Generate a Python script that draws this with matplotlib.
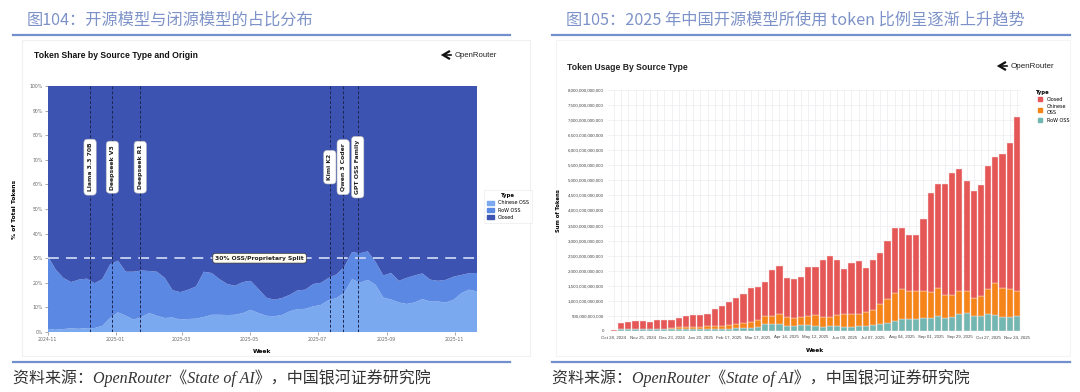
import numpy as np
import pandas as pd
import matplotlib
matplotlib.use('Agg')
import matplotlib.pyplot as plt
import matplotlib.dates as mdates
from matplotlib.patches import Patch, Rectangle
from matplotlib.lines import Line2D
from matplotlib.ticker import MultipleLocator, FuncFormatter

plt.rcParams['font.family'] = ['DejaVu Sans', 'Noto Sans CJK SC']
CJK = ['Noto Sans CJK SC', 'DejaVu Sans']
CAPTION = ['Liberation Serif', 'Noto Sans CJK SC']

# ---- left chart: weekly share of tokens (%), starts 2024-11-01 ----
chinese_share = [1.3, 0.9, 1.2, 1.5, 1.3, 1.6, 1.6, 2.5, 5.7, 8.0,
                 6.6, 5.0, 6.1, 7.7, 6.6, 5.7, 5.9, 5.0, 5.3, 5.4,
                 6.1, 7.0, 7.0, 6.9, 7.0, 7.7, 9.0, 7.7, 6.6, 6.4,
                 6.9, 8.4, 9.3, 9.4, 10.4, 11.0, 13.0, 13.8, 16.0, 21.5,
                 20.0, 21.2, 19.2, 14.0, 13.2, 12.0, 11.4, 12.0, 13.4, 12.4,
                 12.4, 12.0, 13.1, 15.8, 17.2, 16.5]
row_share = [29.7, 24.6, 20.8, 18.8, 20.0, 20.1, 18.2, 19.0, 21.8, 21.0,
             17.9, 19.5, 18.9, 17.1, 17.9, 16.3, 11.1, 11.2, 11.9, 13.1,
             18.4, 17.0, 14.5, 12.6, 11.8, 12.6, 11.8, 9.8, 7.4, 6.7,
             6.9, 6.7, 7.6, 7.8, 9.1, 9.0, 9.0, 9.6, 10.5, 11.0,
             12.0, 11.6, 9.3, 9.0, 10.8, 8.8, 10.6, 11.0, 10.4, 8.9,
             8.4, 9.2, 9.4, 7.4, 6.7, 7.5]
share_types = ['Chinese OSS', 'RoW OSS', 'Closed']
event_names = ['Llama 3.3 70B', 'Deepseek V3', 'Deepseek R1',
               'Kimi K2', 'Qwen 3 Coder', 'GPT OSS Family']
event_dates = ['2024-12-09', '2024-12-29', '2025-01-23',
               '2025-07-12', '2025-07-24', '2025-08-06']

# ---- right chart: weekly token usage (trillions), starts 2024-10-28 ----
row_tokens = [0.0, 0.05, 0.05, 0.06, 0.06, 0.06, 0.06, 0.06, 0.06, 0.07,
              0.07, 0.07, 0.07, 0.07, 0.08, 0.08, 0.08, 0.09, 0.09, 0.11,
              0.14, 0.23, 0.24, 0.22, 0.17, 0.18, 0.19, 0.19, 0.15, 0.14,
              0.15, 0.15, 0.14, 0.14, 0.16, 0.16, 0.21, 0.22, 0.26, 0.33,
              0.39, 0.39, 0.41, 0.42, 0.43, 0.50, 0.43, 0.46, 0.58, 0.60,
              0.51, 0.51, 0.56, 0.53, 0.47, 0.46, 0.50]
chinese_tokens = [0.0, 0.01, 0.01, 0.01, 0.01, 0.01, 0.02, 0.02, 0.03, 0.05,
                  0.06, 0.07, 0.07, 0.08, 0.09, 0.10, 0.12, 0.13, 0.17, 0.20,
                  0.22, 0.27, 0.26, 0.34, 0.30, 0.24, 0.28, 0.31, 0.37, 0.31,
                  0.32, 0.38, 0.42, 0.42, 0.42, 0.46, 0.49, 0.67, 0.79, 0.94,
                  1.00, 0.95, 0.92, 0.90, 0.87, 0.93, 0.77, 0.74, 0.74, 0.74,
                  0.60, 0.65, 0.84, 1.05, 0.95, 0.93, 0.84]
closed_tokens = [0.04, 0.20, 0.24, 0.27, 0.26, 0.23, 0.29, 0.29, 0.27, 0.30,
                 0.36, 0.38, 0.38, 0.43, 0.57, 0.65, 0.75, 0.88, 0.96, 1.11,
                 1.09, 1.12, 1.53, 1.61, 1.30, 1.32, 1.32, 1.62, 1.62, 1.90,
                 2.02, 1.83, 1.51, 1.69, 1.76, 1.47, 1.66, 1.69, 1.94, 2.14,
                 2.04, 1.85, 1.86, 2.40, 3.28, 3.45, 3.69, 4.04, 4.05, 3.65,
                 3.53, 3.70, 4.09, 4.21, 4.47, 4.84, 5.76]

W, H = 1080, 392
fig = plt.figure(figsize=(W / 100, H / 100), dpi=100)

# pixel overlay for headers, rules, captions
ov = fig.add_axes([0, 0, 1, 1])
ov.set_xlim(0, W)
ov.set_ylim(H, 0)
ov.axis('off')

blue_txt = '#7d92c8'
rule = '#7290cc'
for x0, x1, title in [(13, 510, '图104：开源模型与闭源模型的占比分布'),
                      (552, 1070, '图105：2025 年中国开源模型所使用 token 比例呈逐渐上升趋势')]:
    ov.plot([x0, x1], [34.5, 34.5], color=rule, lw=1.6)
    ov.plot([x0, x1], [362, 362], color=rule, lw=1.6)
    ov.text(x0 + 14, 20, title, fontsize=11.7, color=blue_txt, family=CJK,
            va='center', ha='left')
    ov.text(x0, 378, '资料来源：OpenRouter《State of AI》，中国银河证券研究院',
            fontsize=11.5, color='#333333', family=CAPTION, style='italic',
            va='center', ha='left')

ov.add_patch(Rectangle((22, 40), 508, 316, fc='white', ec='#f0f0f0', lw=0.8))
ov.add_patch(Rectangle((556, 40), 514, 316, fc='white', ec='#f4f4f4', lw=0.8))


def logo(x, y, size):
    ov.plot([x + 6, x, x + 6], [y - 3.5, y, y + 3.5], color='#111111',
            lw=1.6, solid_joinstyle='miter')
    ov.plot([x + 2, x + 8], [y, y], color='#111111', lw=1.2)
    ov.text(x + 12, y, 'OpenRouter', fontsize=size, color='#222222',
            va='center', ha='left', family='Liberation Sans')


ov.text(34, 55, 'Token Share by Source Type and Origin', fontsize=6.2,
        fontweight='bold', family='Liberation Sans', va='center', color='#111111')
logo(443, 55, 5.6)
ov.text(567, 67, 'Token Usage By Source Type', fontsize=6.2,
        fontweight='bold', family='Liberation Sans', va='center', color='#222222')
logo(999, 66, 5.8)

# ---- left chart ----
ax1 = fig.add_axes([47.7 / W, 1 - 332 / H, (477 - 47.7) / W, 246 / H])
share_weeks = pd.date_range('2024-11-01', periods=len(chinese_share), freq='7D')
closed_share = 100 - np.array(chinese_share) - np.array(row_share)
share_colors = ['#7aa9f0', '#5b88e2', '#3c53b2']
ax1.stackplot(share_weeks, chinese_share, row_share, closed_share,
              colors=share_colors, linewidth=0)
ax1.set_xlim(share_weeks[0], share_weeks[-1])
ax1.set_ylim(0, 100)
ax1.yaxis.set_major_locator(MultipleLocator(10))
ax1.yaxis.set_major_formatter(FuncFormatter(lambda v, p: f'{v:.0f}%'))
ax1.xaxis.set_major_locator(mdates.MonthLocator(bymonth=[1, 3, 5, 7, 9, 11]))
ax1.xaxis.set_major_formatter(mdates.DateFormatter('%Y-%m'))
ax1.tick_params(labelsize=3.3, length=2, width=0.4, colors='#666666', pad=1.5)
for s in ax1.spines.values():
    s.set_visible(False)
ax1.set_ylabel('% of Total Tokens', fontsize=4.3, fontweight='bold', labelpad=9)
ax1.set_xlabel('Week', fontsize=4.3, fontweight='bold', labelpad=5)

ax1.axhline(30, color='#c9d3f2', lw=1.3, ls=(0, (6, 4)))
ax1.text(pd.Timestamp('2025-05-10'), 30, '30% OSS/Proprietary Split',
         fontsize=4.3, fontweight='bold', ha='center', va='center', color='#222222',
         bbox=dict(boxstyle='round,pad=0.4', fc='#fffdf2', ec='#333333', lw=0.5))
for name, d in zip(event_names, event_dates):
    d = pd.Timestamp(d)
    ax1.axvline(d, color='#1d2550', lw=0.7, ls=(0, (3, 2)))
    ax1.text(d, 67, name, rotation=90, fontsize=4.4, fontweight='bold',
             ha='center', va='center', color='#222222',
             bbox=dict(boxstyle='round,pad=0.6', fc='white', ec='#bbbbbb', lw=0.4))

leg1 = ax1.legend(handles=[Patch(color=c) for c in share_colors], labels=share_types,
                  title='Type', loc='center left', bbox_to_anchor=(1.01, 0.51),
                  fontsize=3.5, title_fontsize=3.9, frameon=True, edgecolor='#e0e0e0',
                  handlelength=1.5, handleheight=0.8, borderpad=0.6, labelspacing=0.45)
leg1.get_title().set_fontweight('bold')
leg1.get_frame().set_linewidth(0.4)

# ---- right chart ----
ax2 = fig.add_axes([608 / W, 1 - 331 / H, (1021 - 608) / W, 241 / H])
usage_weeks = pd.date_range('2024-10-28', periods=len(closed_tokens), freq='7D')
x = np.arange(len(closed_tokens))
row_v = np.array(row_tokens) * 1e12
chi_v = np.array(chinese_tokens) * 1e12
clo_v = np.array(closed_tokens) * 1e12
bar_kw = dict(width=0.86, edgecolor='#fbe3e3', linewidth=0.3, zorder=3)
ax2.bar(x, row_v, color='#72b7b2', **bar_kw)
ax2.bar(x, chi_v, bottom=row_v, color='#f58518', **bar_kw)
ax2.bar(x, clo_v, bottom=row_v + chi_v, color='#e45756', **bar_kw)
ax2.set_xlim(-0.83, len(x) - 0.44)
ax2.set_ylim(0, 8e12)
ax2.set_yticks(np.arange(0, 8.01e12, 5e11))
ax2.yaxis.set_major_formatter(FuncFormatter(lambda v, p: f'{int(round(v)):,}'))
ax2.set_xticks(x[::4])
ax2.set_xticklabels(usage_weeks[::4].strftime('%b %d, %Y'))
ax2.set_xticks(x, minor=True)
ax2.grid(True, which='both', color='#ebebf0', lw=0.5, zorder=0)
ax2.set_axisbelow(True)
ax2.tick_params(which='both', length=0, labelsize=3.2, colors='#444444', pad=3)
for lab in ax2.get_xticklabels() + ax2.get_yticklabels():
    lab.set_family('Liberation Sans')
for s in ax2.spines.values():
    s.set_visible(False)
ax2.axhline(0, color='#999999', lw=0.5, zorder=4)
ax2.set_ylabel('Sum of Tokens', fontsize=3.8, fontweight='bold', labelpad=5)
ax2.set_xlabel('Week', fontsize=4.2, fontweight='bold', labelpad=6)

usage_types = ['Closed', 'Chinese\nOSS', 'RoW OSS']
usage_colors = ['#e45756', '#f58518', '#72b7b2']
handles = [Line2D([], [], marker='s', ls='', markersize=3.5, color=c) for c in usage_colors]
leg2 = ax2.legend(handles, usage_types, title='Type', loc='upper left',
                  bbox_to_anchor=(1.03, 1.01), frameon=False, fontsize=3.5,
                  title_fontsize=3.8, handletextpad=0.3, labelspacing=0.5,
                  alignment='left', borderaxespad=0)
leg2.get_title().set_fontweight('bold')

fig.savefig('out.png', dpi=100)
